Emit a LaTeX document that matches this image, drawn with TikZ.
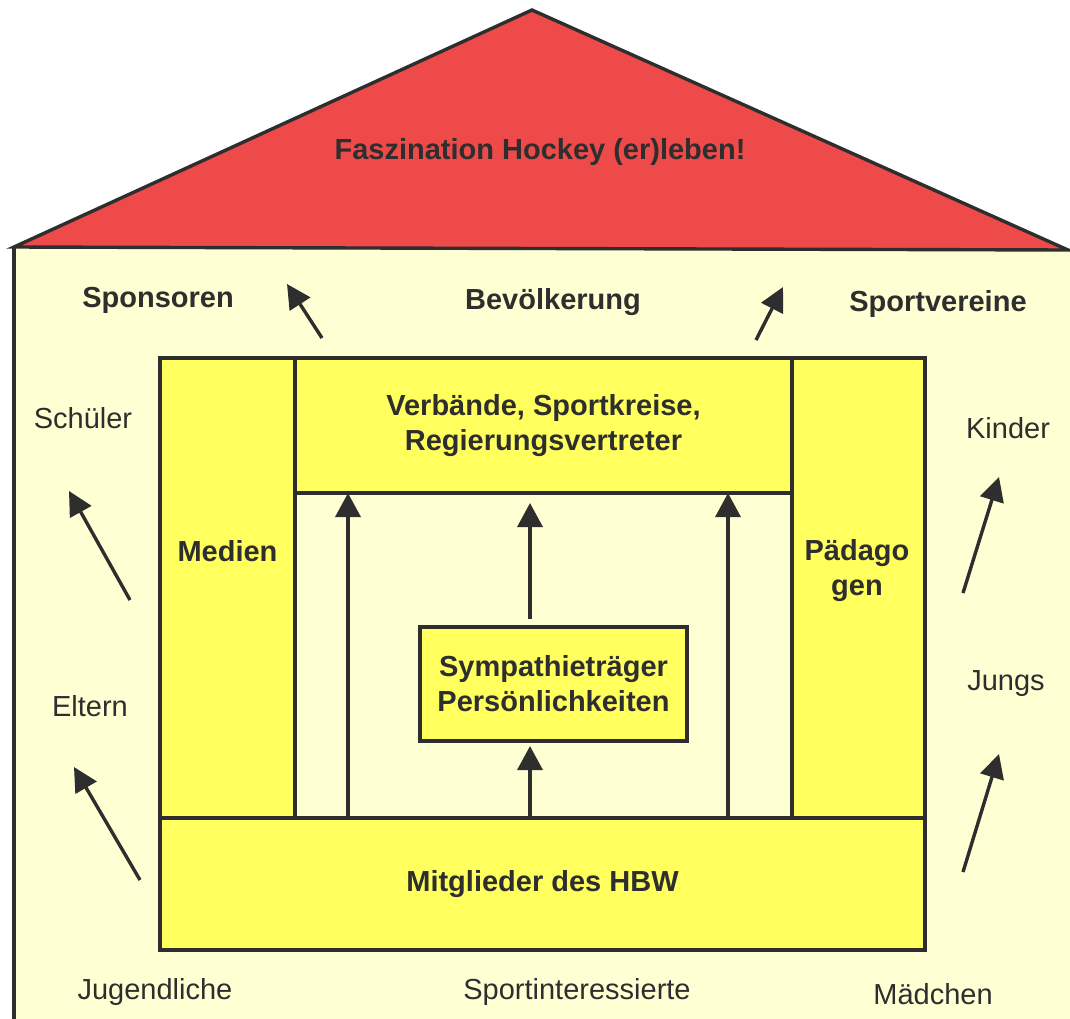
\documentclass[tikz,border=0pt]{standalone}
\usepackage{fontspec}
\setmainfont{Liberation Sans}
\usetikzlibrary{arrows.meta}
\definecolor{roofred}{HTML}{EE4A4A}
\definecolor{paleyel}{HTML}{FFFFD4}
\definecolor{boxyel}{HTML}{FFFF5E}
\definecolor{ink}{HTML}{2E2E2E}
\tikzset{
  txt/.style={text=ink, font=\fontsize{29}{35}\selectfont, inner sep=0pt, align=center},
  btxt/.style={txt, font=\fontsize{29}{35}\selectfont\bfseries},
  ybox/.style={draw=ink, line width=3.6pt, fill=boxyel, rectangle, inner sep=0pt, outer sep=0pt},
  arr/.style={draw=ink, line width=3.4pt, -{Triangle[width=25pt,length=24pt]}},
  darr/.style={draw=ink, line width=3.4pt, -{Triangle[width=24pt,length=24pt]}}
}
\begin{document}
\begin{tikzpicture}[x=1pt,y=-1pt]
\useasboundingbox (0,0) rectangle (1070,1018);
% house body
\fill[paleyel] (14,248) rectangle (1075,1025);
\draw[ink, line width=3.4pt] (14,1025) -- (14,248);
% roof
\draw[ink, line width=3.4pt, fill=roofred, line join=miter] (14,247) -- (532,10) -- (1068,250) -- cycle;
\node[btxt] (roof) at (540,152) {Faszination Hockey (er)leben!};
% boxes
\node[ybox, minimum width=135pt, minimum height=460pt] (med) at (227.5,588) {};
\node[ybox, minimum width=133pt, minimum height=460pt] (paed) at (858.5,588) {};
\node[ybox, minimum width=497pt, minimum height=135pt, btxt] (verb) at (543.5,425.5) {Verbände, Sportkreise,\\Regierungsvertreter};
\node[ybox, minimum width=765pt, minimum height=132pt, btxt] (mit) at (542.5,884) {Mitglieder des HBW};
\node[ybox, minimum width=267pt, minimum height=114pt, btxt] (symp) at (553.5,684) {Sympathieträger\\Persönlichkeiten};
\node[btxt] (medt) at (227.5,551) {Medien};
\node[btxt] (paedt) at (857,571) {Pädago\\gen};
% vertical arrows
\coordinate (xa) at (348,0);
\coordinate (xb) at (530,0);
\coordinate (xc) at (728,0);
\draw[arr] (mit.north -| xa) -- (verb.south -| xa);
\draw[arr] (mit.north -| xc) -- (verb.south -| xc);
\draw[arr, shorten >=5pt] (mit.north -| xb) -- (symp.south -| xb);
\draw[arr, shorten <=8pt, shorten >=10pt] (symp.north -| xb) -- (verb.south -| xb);
% labels
\node[btxt] (spons) at (158,300) {Sponsoren};
\node[btxt] (bev) at (553,302) {Bevölkerung};
\node[btxt] (sportv) at (938,304) {Sportvereine};
\node[txt] (schuel) at (83,418) {Schüler};
\node[txt] (eltern) at (90,706) {Eltern};
\node[txt] (kinder) at (1008,428) {Kinder};
\node[txt] (jungs) at (1006,684) {Jungs};
\node[txt] (jugend) at (155,992) {Jugendliche};
\node[txt] (sporti) at (577,992) {Sportinteressierte};
\node[txt] (maedch) at (933,994) {Mädchen};
% diagonal arrows
\coordinate (s1a) at (322,338); \coordinate (s1b) at (287,284);
\coordinate (s2a) at (756,340); \coordinate (s2b) at (783,287);
\coordinate (s3a) at (130,600); \coordinate (s3b) at (69,491);
\coordinate (s4a) at (140,880); \coordinate (s4b) at (74,767);
\coordinate (s5a) at (963,593); \coordinate (s5b) at (999,477);
\coordinate (s6a) at (963,872); \coordinate (s6b) at (999,754);
\draw[darr] (s1a) -- (s1b);
\draw[darr] (s2a) -- (s2b);
\draw[darr] (s3a) -- (s3b);
\draw[darr] (s4a) -- (s4b);
\draw[darr] (s5a) -- (s5b);
\draw[darr] (s6a) -- (s6b);
\end{tikzpicture}
\end{document}
